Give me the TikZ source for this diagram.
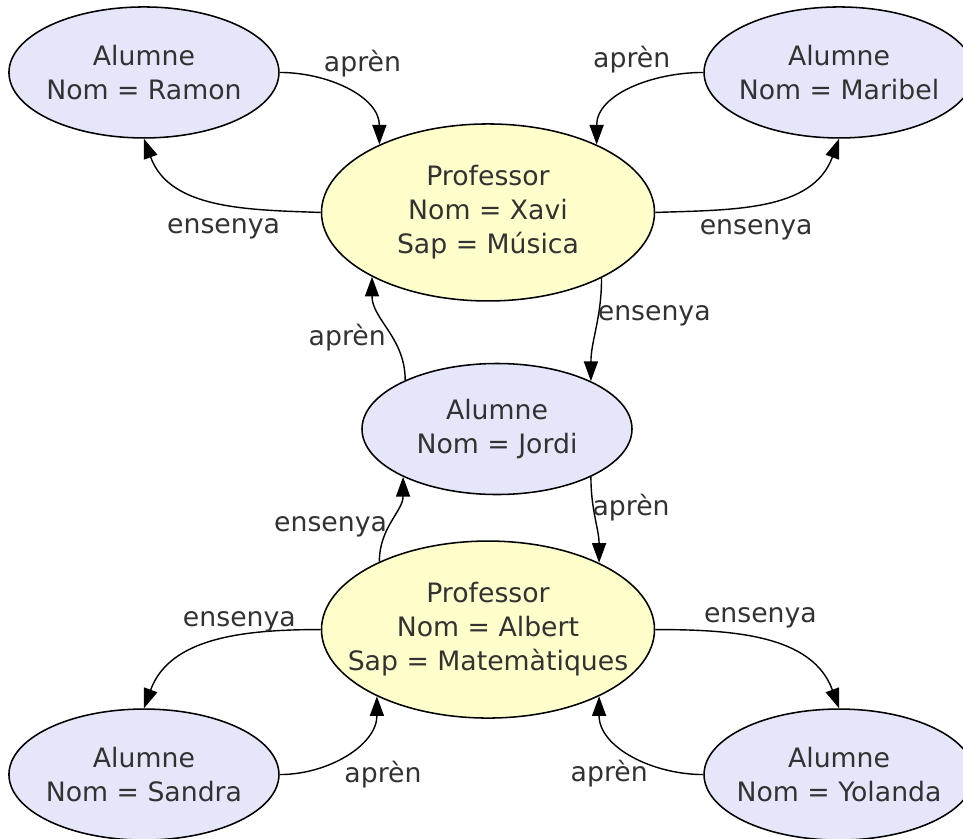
\documentclass[tikz,border=0pt]{standalone}
\usepackage{fontspec}
\setmainfont{DejaVu Sans}
\usetikzlibrary{positioning,shapes.geometric,arrows.meta}

\definecolor{alumnefill}{RGB}{230,230,250}
\definecolor{profefill}{RGB}{255,255,204}
\definecolor{textgray}{RGB}{50,50,50}

\tikzset{
  ent/.style={ellipse, draw=black, line width=1.1pt, inner xsep=-20pt, inner ysep=0pt,
    align=center, text=textgray, font=\fontsize{19}{24.2}\selectfont},
  alumne/.style={ent, fill=alumnefill, minimum width=6.75cm, minimum height=3.275cm},
  professor/.style={ent, fill=profefill, minimum width=8.325cm, minimum height=4.425cm},
  rel/.style={-{Triangle[length=14pt,width=10pt]}, line width=1pt, black},
  lbl/.style={text=textgray, font=\fontsize{19}{24.2}\selectfont, inner sep=2pt}
}

\begin{document}
\begin{tikzpicture}
  \useasboundingbox (0,0) rectangle (24.075,-20.95);

  \node[alumne] (jordi) at (12.425,-10.725) {Alumne\\Nom = Jordi};
  \node[professor, above=1.525cm of jordi, xshift=-0.225cm] (xavi) {Professor\\Nom = Xavi\\Sap = Música};
  \node[professor, below=1.125cm of jordi, xshift=-0.225cm] (albert) {Professor\\Nom = Albert\\Sap = Matemàtiques};
  \node[alumne, left=1.025cm of xavi, yshift=3.5cm] (ramon) {Alumne\\Nom = Ramon};
  \node[alumne, right=1.2cm of xavi, yshift=3.5cm] (maribel) {Alumne\\Nom = Maribel};
  \node[alumne, left=1.025cm of albert, yshift=-3.625cm] (sandra) {Alumne\\Nom = Sandra};
  \node[alumne, right=1.2cm of albert, yshift=-3.625cm] (yolanda) {Alumne\\Nom = Yolanda};

  \draw[rel] (ramon.east) to[out=0,in=90] node[lbl, pos=0.3, above right=-2pt] {aprèn} (xavi.148);
  \draw[rel] (xavi.west) to[out=178,in=-70] node[lbl, pos=0.45, below=8pt] {ensenya} (ramon.south);
  \draw[rel] (maribel.west) to[out=180,in=90] node[lbl, pos=0.2, above left=-1pt] {aprèn} (xavi.32);
  \draw[rel] (xavi.east) to[out=2,in=-110] node[lbl, pos=0.45, below=8pt] {ensenya} (maribel.south);
  \draw[rel] (xavi.-30) to[out=-90,in=90] node[lbl, pos=0.35, right=-3pt] {ensenya} (jordi.27);
  \draw[rel] (jordi.152) to[out=90,in=-90] node[lbl, pos=0.4, left=3pt] {aprèn} (xavi.-151);
  \draw[rel] (jordi.-27) to[out=-90,in=90] node[lbl, pos=0.35, right=-3pt] {aprèn} (albert.31);
  \draw[rel] (albert.148) to[out=90,in=-90] node[lbl, pos=0.4, left=-2pt] {ensenya} (jordi.-153);
  \draw[rel] (albert.west) to[out=180,in=70] node[lbl, pos=0.37, above] {ensenya} (sandra.north);
  \draw[rel] (sandra.east) to[out=0,in=-90] node[lbl, pos=0.45, below right] {aprèn} (albert.-149);
  \draw[rel] (albert.east) to[out=0,in=110] node[lbl, pos=0.47, above=6pt] {ensenya} (yolanda.north);
  \draw[rel] (yolanda.west) to[out=180,in=-90] node[lbl, pos=0.35, anchor=east, yshift=-6pt] {aprèn} (albert.-31);
\end{tikzpicture}
\end{document}
